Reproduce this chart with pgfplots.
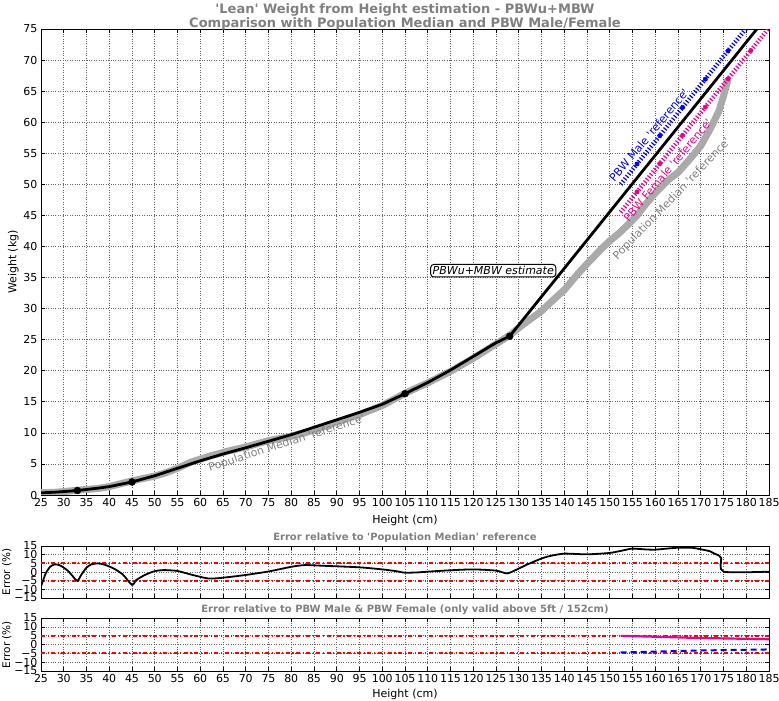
\documentclass[border=0pt]{standalone}
\usepackage{pgfplots}
\pgfplotsset{compat=1.18}
\usepackage{fontspec}
\setmainfont{DejaVu Sans}
\definecolor{medgray}{RGB}{170,170,170}
\definecolor{titlegray}{RGB}{128,128,128}
\newcommand{\q}{\textquotesingle}
\begin{document}
\begin{tikzpicture}
\useasboundingbox (0pt,0pt) rectangle (779pt,-701pt);
\pgfplotsset{
  every axis/.append style={
    scale only axis,
    /pgf/number format/assume math mode=true,
    tick label style={font=\fontsize{11}{12}\selectfont},
    label style={font=\fontsize{11}{12}\selectfont},
    grid=major, major grid style={dotted, black!60, line width=0.6pt},
    axis line style={line width=0.9pt},
    major tick length=4pt,
    tick style={black, line width=0.6pt},
    xmin=25, xmax=185, xtick={25,30,...,185},
    title style={font=\bfseries\fontsize{10}{11}\selectfont, text=titlegray, inner sep=1pt, yshift=-4pt},
  }
}
% ---------------- main axis ----------------
\begin{axis}[name=main, at={(41pt,-29pt)}, anchor=north west,
  width=728pt, height=466pt,
  ymin=0, ymax=75, ytick={0,5,...,75},
  xlabel={Height (cm)}, ylabel={Weight (kg)},
  ylabel style={yshift=-2pt},
  xlabel style={yshift=-1pt},
  title={\q Lean\q\ Weight from Height estimation - PBWu+MBW\\Comparison with Population Median and PBW Male/Female},
  title style={font=\bfseries\fontsize{13}{13.5}\selectfont, align=center, yshift=-4pt},
]
% population median
\addplot[medgray, line width=7pt, line join=round] coordinates {
(25,0.38)(28,0.43)(30,0.55)(33,0.76)(37.5,1.05)(40,1.35)(45,2.27)(50,3.05)(52,3.47)(55,4.3)(58,5.3)(62,6.24)(66,7.05)(70,7.73)(75,8.75)(80,9.45)(83,10.0)(87,10.95)(90,11.75)(95,12.95)(100,14.4)(105,16.37)(110,18.05)(115,19.9)(120,22.0)(125,24.3)(128,25.7)
(130,26.9)(132,28.0)(135,29.6)(137,31.0)(140,33.0)(143,35.6)(145,37.2)(148,39.5)(150,40.9)(152,42.1)(154,43.5)(156,45.0)(158,46.9)(160,48.6)(163,50.8)(165,51.9)(168,54.4)(170,56.2)(172,58.8)(174,61.8)(175,64.2)(176,67.0)};
% PBW male
\addplot[blue, line width=4.5pt, dash pattern=on 1.2pt off 2pt] coordinates {(152.4,50)(185,79.67)};
\addplot[blue, only marks, mark=*, mark size=2.2pt] coordinates {(156,53.28)(161,57.83)(166,62.38)(171,66.93)(176,71.48)(181,76.03)};
% PBW female
\addplot[magenta, line width=4.5pt, dash pattern=on 1.2pt off 2pt] coordinates {(152.4,45.5)(185,75.17)};
\addplot[magenta, only marks, mark=*, mark size=2.2pt] coordinates {(156,48.78)(161,53.33)(166,57.88)(171,62.43)(176,66.98)(181,71.53)};
% PBWu+MBW estimate
\addplot[black, line width=2.8pt, line join=round] coordinates {
(25,0.35)(28,0.45)(30,0.55)(33,0.72)(37.5,1.1)(40,1.35)(45,2.1)(50,3.1)(55,4.3)(60,5.5)(65,6.6)(70,7.6)(75,8.65)(80,9.7)(85,10.9)(90,12.1)(95,13.3)(100,14.6)(105,16.3)(110,18.1)(115,20.1)(120,22.3)(125,24.5)(128,25.55)(185,77.42)};
\addplot[black, only marks, mark=*, mark size=3.5pt] coordinates {(33,0.72)(45,2.1)(105,16.3)(128,25.55)};
% labels
\node[rotate=50, text=blue, font=\fontsize{11}{12}\selectfont] at (axis cs:158.6,57.9) {PBW Male \q reference\q};
\node[rotate=50, text=magenta, font=\fontsize{11}{12}\selectfont] at (axis cs:162.7,52.3) {PBW Female \q reference\q};
\node[rotate=46, text=titlegray, font=\fontsize{11}{12}\selectfont] at (axis cs:163.7,47.6) {Population Median \q reference\q};
\node[rotate=17.7, text=titlegray, font=\fontsize{11}{12}\selectfont] at (axis cs:79,8.3) {Population Median \q reference\q};
\node[draw=black, line width=1pt, rounded corners=3pt, fill=white, inner sep=2pt, font=\itshape\fontsize{11}{12}\selectfont] at (axis cs:124.4,36.1) {PBWu+MBW estimate};
\end{axis}
% ---------------- error 1 ----------------
\begin{axis}[name=err1, at={(41pt,-546pt)}, anchor=north west,
  width=728pt, height=52pt,
  ymin=-15, ymax=15, ytick={-15,-10,...,15},
  yticklabels={−15,−10,−5,0,5,10,15},
  xticklabels={},
  ylabel={Error (\%)}, ylabel style={yshift=-4pt, font=\fontsize{10.5}{12}\selectfont},
  title={Error relative to \q Population Median\q\ reference},
]
\addplot[red, line width=2pt, dash pattern=on 4pt off 2.5pt on 1.2pt off 2.5pt] coordinates {(25,5)(185,5)};
\addplot[red, line width=2pt, dash pattern=on 4pt off 2.5pt on 1.2pt off 2.5pt] coordinates {(25,-5)(185,-5)};
\addplot[black, line width=1.8pt, smooth, tension=0.4] coordinates {
(25,-8.4)(26,-1)(27,3)(28,4.4)(29,4)(30,2.5)(31,0.5)(32,-2.5)(33,-5.1)(34,-1)(35,2.5)(36,4.3)(37.5,5)(39,4.2)(41,2)(43,-1.5)(45,-7.4)(46,-4.5)(48,-1.5)(50,0.5)(52,1.1)(55,0.6)(58,-1.5)(62,-3.8)(66,-3.0)(70,-1.7)(75,0.3)(80,3.0)(83,4.0)(87,3.6)(95,2.7)(100,1.5)(103,0.5)(105,-0.4)(108,-0.2)(110,0.2)(115,1.0)(120,1.5)(125,0.8)(127.5,-0.8)(130,2.0)(132,4.5)(135,7.8)(137,9.3)(140,10.6)(145,10.2)(150,11.0)(153,12.5)(155,13.5)(158,13.0)(160,12.9)(163,13.6)(165,14.0)(168,14.0)(170,13.1)(172,12)(173,10.6)(174,9.5)(174.5,8.0)(175,0.2)(185,0.2)};
\end{axis}
% ---------------- error 2 ----------------
\begin{axis}[name=err2, at={(41pt,-618pt)}, anchor=north west,
  width=728pt, height=53pt,
  ymin=-15, ymax=15, ytick={-15,-10,...,15},
  yticklabels={−15,−10,−5,0,5,10,15},
  xlabel={Height (cm)}, xlabel style={yshift=1pt},
  ylabel={Error (\%)}, ylabel style={yshift=-4pt, font=\fontsize{10.5}{12}\selectfont},
  title={Error relative to PBW Male \& PBW Female (only valid above 5ft / 152cm)},
]
\addplot[red, line width=2pt, dash pattern=on 4pt off 2.5pt on 1.2pt off 2.5pt] coordinates {(25,5)(185,5)};
\addplot[red, line width=2pt, dash pattern=on 4pt off 2.5pt on 1.2pt off 2.5pt] coordinates {(25,-5)(185,-5)};
\addplot[magenta, line width=2.2pt] coordinates {(152.4,4.9)(160,4.4)(168,3.8)(176,3.4)(185,3.0)};
\addplot[blue, line width=2pt, dash pattern=on 6pt off 4pt] coordinates {(152.4,-4.5)(160,-4.0)(168,-3.5)(176,-3.1)(185,-2.8)};
\end{axis}
\end{tikzpicture}
\end{document}
